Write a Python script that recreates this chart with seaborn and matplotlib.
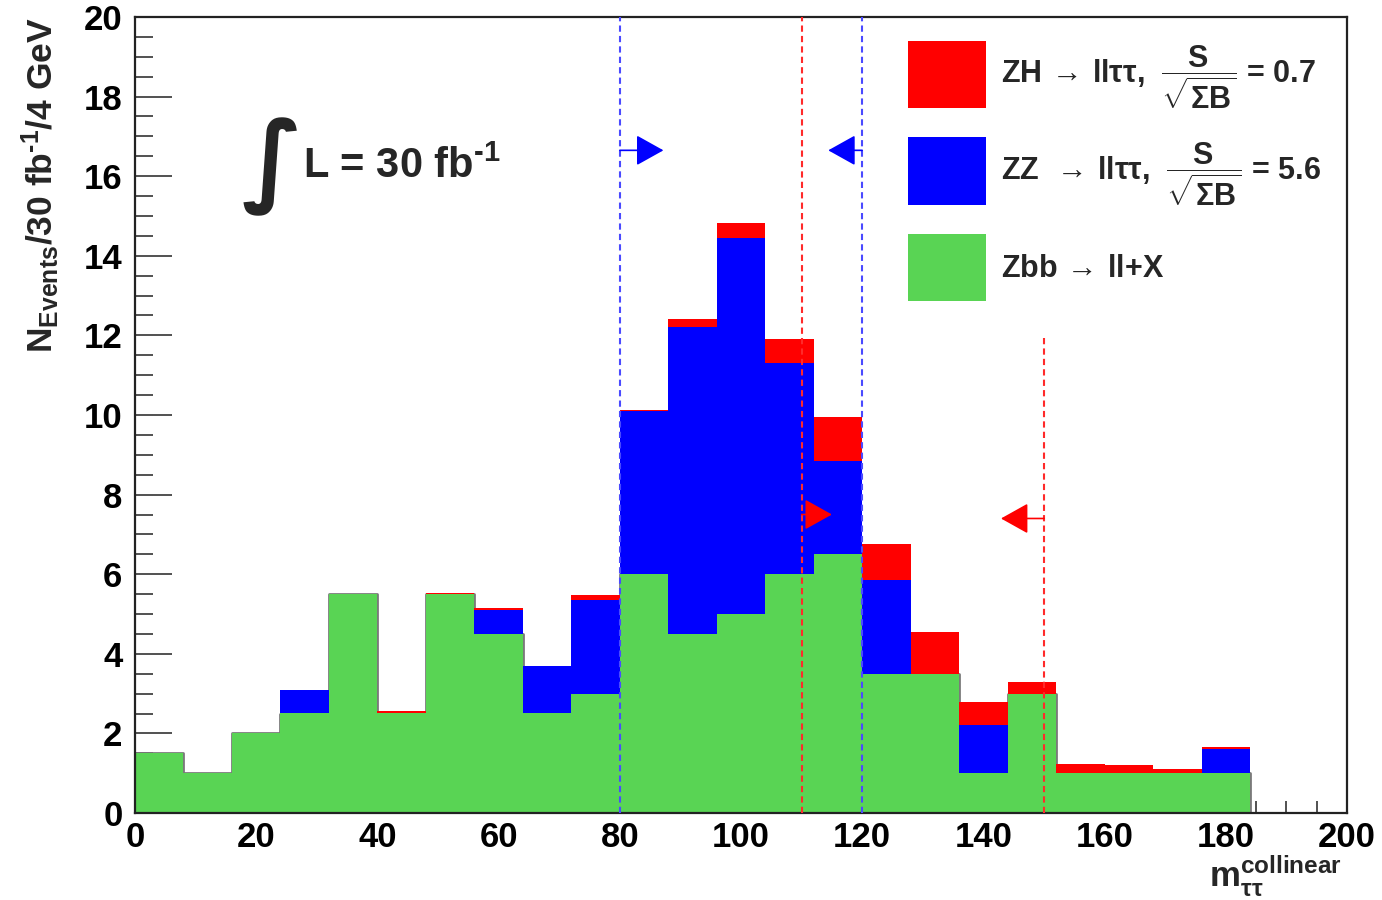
import numpy as np
import pandas as pd
import matplotlib
matplotlib.use("Agg")
import matplotlib.pyplot as plt
import seaborn as sns
from matplotlib.patches import Patch
from matplotlib.ticker import MultipleLocator

# ---------------- data ----------------
bin_edges = [0, 8, 16, 24, 32, 40, 48, 56, 64, 72, 80, 88, 96, 104, 112,
             120, 128, 136, 144, 152, 160, 168, 176, 184, 192, 200]
zbb = [1.5, 1.0, 2.0, 2.5, 5.5, 2.5, 5.5, 4.5, 2.5, 3.0, 6.0, 4.5, 5.0,
       6.0, 6.5, 3.5, 3.5, 1.0, 3.0, 1.0, 1.0, 1.0, 1.0, 0.0, 0.0]
zz = [0.0, 0.0, 0.0, 0.6, 0.0, 0.0, 0.0, 0.6, 1.2, 2.35, 4.1, 7.7, 9.45,
      5.3, 2.35, 2.35, 0.0, 1.2, 0.0, 0.0, 0.0, 0.0, 0.6, 0.0, 0.0]
zh = [0.0, 0.0, 0.0, 0.0, 0.0, 0.06, 0.02, 0.05, 0.0, 0.13, 0.03, 0.2, 0.38,
      0.62, 1.1, 0.92, 1.05, 0.6, 0.3, 0.22, 0.2, 0.1, 0.07, 0.0, 0.0]
processes = ["Zbb", "ZZ", "ZH"]
legend_labels = [
    r"ZH$\,\rightarrow\,$ll$\tau\tau$,  $\dfrac{S}{\sqrt{\Sigma B}}$ = 0.7",
    r"ZZ $\,\rightarrow\,$ll$\tau\tau$,  $\dfrac{S}{\sqrt{\Sigma B}}$ = 5.6",
    r"Zbb$\,\rightarrow\,$ll+X",
]
# selection cuts (blue: ZZ window, red: ZH window)
cut_x = [80, 120, 110, 150]
cut_top = [20, 20, 20, 12]
cut_color = ["#4a4aff", "#4a4aff", "#ff2a2a", "#ff2a2a"]
arrow_y = [16.65, 16.65, 7.5, 7.4]
arrow_tip = [87.2, 114.4, 115.0, 142.9]
arrow_color = ["#0000ff", "#0000ff", "#ff0000", "#ff0000"]

colors = {"Zbb": "#59D454", "ZZ": "#0000FF", "ZH": "#FF0000"}

# ---------------- style ----------------
sns.set_style("ticks")
plt.rcParams["font.family"] = ["Liberation Sans", "DejaVu Sans"]
plt.rcParams["font.weight"] = "bold"
plt.rcParams["mathtext.fontset"] = "custom"
plt.rcParams["mathtext.rm"] = "Liberation Sans:bold"
plt.rcParams["mathtext.it"] = "Liberation Sans:bold"
plt.rcParams["mathtext.bf"] = "Liberation Sans:bold"
plt.rcParams["mathtext.sf"] = "Liberation Sans:bold"

fig = plt.figure(figsize=(13.82, 9.0), dpi=100)
ax = fig.add_axes([135 / 1382, 1 - 813 / 900, 1212 / 1382, 796 / 900])

centers = [(a + b) / 2 for a, b in zip(bin_edges[:-1], bin_edges[1:])]
df = pd.DataFrame({
    "m": centers * 3,
    "n": zbb + zz + zh,
    "process": ["Zbb"] * len(zbb) + ["ZZ"] * len(zz) + ["ZH"] * len(zh),
})

# gray outline of the Zbb histogram, below the fills
n_lines = len(ax.lines)
sns.histplot(x=centers, weights=zbb, bins=bin_edges, element="step",
             fill=False, color="#7a7a7a", linewidth=2.0, ax=ax)
for ln in ax.lines[n_lines:]:
    ln.set_zorder(0.9)

sns.histplot(data=df, x="m", weights="n", hue="process",
             hue_order=["ZH", "ZZ", "Zbb"], palette=colors,
             bins=bin_edges, multiple="stack", element="step", fill=True,
             alpha=1.0, linewidth=0, legend=False, ax=ax)

# cut lines and arrows
for x, top, c in zip(cut_x, cut_top, cut_color):
    ax.plot([x, x], [0, top], color=c, lw=1.5, ls=(0, (3, 2)), zorder=3)
for x, y, tip, c in zip(cut_x, arrow_y, arrow_tip, arrow_color):
    ax.annotate("", xy=(tip, y), xytext=(x, y),
                arrowprops=dict(arrowstyle="-|>,head_length=0.43,head_width=0.24",
                                mutation_scale=40, color=c, lw=1.2,
                                shrinkA=0, shrinkB=0), zorder=3)

# axes
ax.set_xlim(0, 200)
ax.set_ylim(0, 20)
ax.set_axisbelow(True)
ax.xaxis.set_major_locator(MultipleLocator(20))
ax.xaxis.set_minor_locator(MultipleLocator(5))
ax.yaxis.set_major_locator(MultipleLocator(2))
ax.yaxis.set_minor_locator(MultipleLocator(0.5))
ax.tick_params(axis="x", which="major", direction="in", length=17, width=1.1,
               labelsize=25, pad=6, colors="#222222", labelcolor="black")
ax.tick_params(axis="x", which="minor", direction="in", length=8.6, width=1.1,
               colors="#222222")
ax.tick_params(axis="y", which="major", direction="in", length=26.6, width=1.1,
               labelsize=25, pad=9, colors="#222222", labelcolor="black")
ax.tick_params(axis="y", which="minor", direction="in", length=13.3, width=1.1,
               colors="#222222")
for lab in ax.get_xticklabels() + ax.get_yticklabels():
    lab.set_fontweight("bold")
for sp in ax.spines.values():
    sp.set_visible(True)
    sp.set_color("#222222")
    sp.set_linewidth(1.6)

ax.set_ylabel(r"N$_{\mathrm{Events}}$/30 fb$^{\text{-1}}$/4 GeV",
              fontsize=25.5, fontweight="bold", loc="top")
ax.yaxis.set_label_coords(-0.060, 1.0)
ax.set_xlabel(r"m$_{\tau\tau}^{\mathrm{collinear}}$", fontsize=25,
              fontweight="bold", loc="right")
ax.xaxis.set_label_coords(0.996, -0.050)

# luminosity label
ax.text(0.088, 0.812, "\u222b", transform=ax.transAxes, fontsize=72,
        family="DejaVu Sans", fontweight="bold", va="center", ha="left")
ax.text(0.1386, 0.798, r"L = 30 fb$^{\text{-1}}$", transform=ax.transAxes,
        fontsize=30, fontweight="bold", va="baseline", ha="left")

# legend
handles = [Patch(facecolor=colors["ZH"], edgecolor="none"),
           Patch(facecolor=colors["ZZ"], edgecolor="none"),
           Patch(facecolor=colors["Zbb"], edgecolor="none")]
ax.legend(handles, legend_labels, loc="upper left",
          bbox_to_anchor=(0.638, 0.97), frameon=False, fontsize=22,
          handlelength=2.53, handleheight=3.0, handletextpad=0.5,
          labelspacing=0.85, borderpad=0, borderaxespad=0)

fig.savefig("out.png", dpi=100)
